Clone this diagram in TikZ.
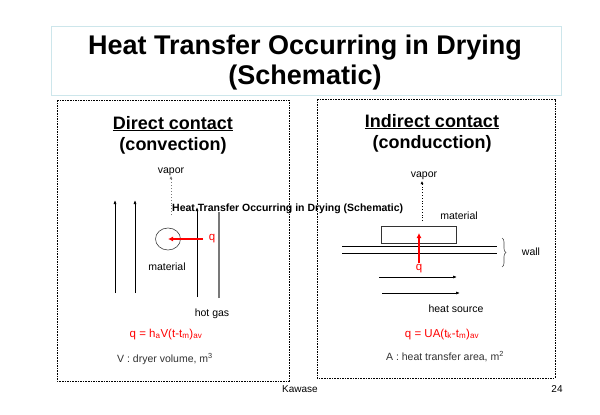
\documentclass[tikz,border=0pt]{standalone}
\usepackage{fontspec}
\setmainfont{Liberation Sans}
\usetikzlibrary{arrows.meta,decorations.pathreplacing,shapes.geometric}
\definecolor{titleline}{RGB}{205,230,235}
\definecolor{qred}{RGB}{255,0,0}
\definecolor{graytext}{RGB}{50,50,50}
\definecolor{gasgray}{RGB}{120,120,120}
\tikzset{
  panelbox/.style={draw=black, line width=0.8pt, dash pattern=on 1.6pt off 1pt},
  headtext/.style={font=\bfseries\fontsize{18}{21}\selectfont, anchor=base},
  small/.style={font=\fontsize{10.5}{12}\selectfont, anchor=base},
  formula/.style={font=\fontsize{11.5}{13}\selectfont, text=qred, anchor=base},
  note/.style={font=\fontsize{10.5}{12}\selectfont, text=graytext, anchor=base},
  flow/.style={draw=black, line width=0.7pt, -{Latex[length=4pt,width=3pt]}},
  heatarrow/.style={draw=qred, line width=1.6pt, -{Latex[length=5pt,width=5pt]}},
}
\begin{document}
\begin{tikzpicture}[x=1pt,y=-1pt]
\useasboundingbox (0,0) rectangle (600,415);
\fill[white] (0,0) rectangle (600,415);

% title
\draw[titleline, line width=1pt] (51,26) rectangle (561,95);
\node[font=\bfseries\fontsize{27}{32}\selectfont, anchor=base] (t1) at (305,54) {Heat Transfer Occurring in Drying};
\node[font=\bfseries\fontsize{27}{32}\selectfont, anchor=base] (t2) at (305,84) {(Schematic)};

% panels
\draw[panelbox] (57,100) rectangle (289,381);
\draw[panelbox] (317,99) rectangle (555,378);

% ---- left panel ----
\node[headtext] (dc) at (173,129) {\underline{Direct contact}};
\node[headtext] (conv) at (173,150) {(convection)};
\node[small] (vap1) at (171,173) {vapor};
\coordinate (v1b) at (171,215);
\coordinate (v1t) at (171,176);
\draw[draw=gasgray, line width=0.9pt, dotted, -{Latex[length=3pt,width=3pt]}] (v1b) -- (v1t);

\coordinate (a1b) at (115,293); \coordinate (a1t) at (115,200);
\coordinate (a2b) at (135,293); \coordinate (a2t) at (135,200);
\draw[flow] (a1b) -- (a1t);
\draw[flow] (a2b) -- (a2t);
\coordinate (a3b) at (197,297); \coordinate (a3t) at (197,207);
\draw[flow] (a3b) -- (a3t);
\coordinate (g1b) at (219,298); \coordinate (g1t) at (219,212);
\draw[gasgray, line width=1.4pt] (g1b) -- (g1t);

\node[draw=black!75, line width=0.6pt, ellipse, minimum width=25pt, minimum height=22pt, inner sep=0pt] (mat1) at (168,239) {};
\coordinate (q1s) at (203,239);
\draw[heatarrow] (q1s) -- (mat1.center);
\node[font=\fontsize{11.5}{13}\selectfont, text=qred] (q1) at (212,239) {q};
\node[small] (matl1) at (167,270) {material};
\node[small] (hot) at (212,316) {hot gas};
\node[formula] (f1) at (166,337) {q = h\textsubscript{a}V(t-t\textsubscript{m})\textsubscript{av}};
\node[note] (n1) at (165,362) {V : dryer volume, m\textsuperscript{3}};

% overlay caption
\node[font=\bfseries\fontsize{10.5}{12}\selectfont, anchor=base west, inner sep=0pt] (cap) at (172,211.5) {Heat Transfer Occurring in Drying (Schematic)};

% ---- right panel ----
\node[headtext] (ic) at (432,127) {\underline{Indirect contact}};
\node[headtext] (cond) at (432,148) {(conducction)};
\node[small] (vap2) at (424,177) {vapor};
\coordinate (v2b) at (422,221);
\coordinate (v2t) at (422,181);
\draw[draw=black, line width=0.8pt, dotted, -{Latex[length=3pt,width=3pt]}] (v2b) -- (v2t);
\node[small] (matl2) at (459,219) {material};
\node[draw=black!80, line width=0.7pt, minimum width=75pt, minimum height=17pt, inner sep=0pt] (box) at (418.5,234.5) {};
\coordinate (w1l) at (342,246); \coordinate (w1r) at (497,246);
\coordinate (w2l) at (342,253); \coordinate (w2r) at (497,253);
\draw[line width=0.7pt] (w1l) -- (w1r);
\draw[line width=0.7pt] (w2l) -- (w2r);
\coordinate (brt) at (502,238); \coordinate (brb) at (502,267);
\draw[line width=0.6pt, black!70, decorate, decoration={brace, amplitude=4pt}] (brt) -- (brb);
\node[small] (wall) at (531,255) {wall};
\coordinate (q2s) at (419,263);
\coordinate (q2t) at (419,233);
\draw[heatarrow] (q2s) -- (q2t);
\node[font=\fontsize{11.5}{13}\selectfont, text=qred] (q2) at (419,269) {q};
\coordinate (h1l) at (379,277); \coordinate (h1r) at (457,277);
\coordinate (h2l) at (382,293); \coordinate (h2r) at (460,293);
\draw[flow] (h1l) -- (h1r);
\draw[flow] (h2l) -- (h2r);
\node[small] (hs) at (456,312) {heat source};
\node[formula] (f2) at (442,337) {q = UA(t\textsubscript{k}-t\textsubscript{m})\textsubscript{av}};
\node[note] (n2) at (445,360) {A : heat transfer area, m\textsuperscript{2}};

% footer
\node[font=\fontsize{10}{12}\selectfont, anchor=base] (auth) at (300,392) {Kawase};
\node[font=\fontsize{10}{12}\selectfont, anchor=base] (pg) at (557,392) {24};
\end{tikzpicture}
\end{document}
